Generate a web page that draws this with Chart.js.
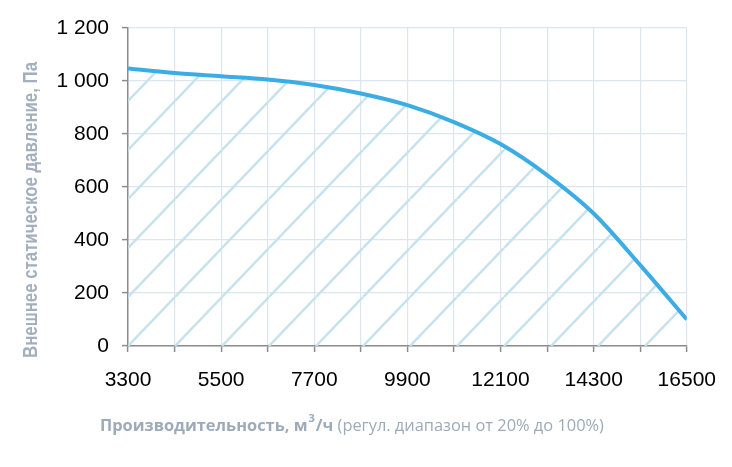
<!DOCTYPE html>
<html>
<head>
<meta charset="utf-8">
<script src="https://cdn.jsdelivr.net/npm/chart.js@4.4.1/dist/chart.umd.min.js"></script>
<style>
  html, body { margin: 0; padding: 0; background: #fff; }
  #wrap { width: 732px; height: 467px; position: relative; }
</style>
</head>
<body>
<div id="wrap"><canvas id="c"></canvas></div>
<script>
// ---- data ----
const airflow = [3300, 4400, 5500, 6600, 7700, 8800, 9900, 11000, 12100, 13200, 14300, 15400, 16500];
const pressure = [1047, 1030, 1018, 1006, 985, 953, 909, 845, 762, 645, 500, 305, 100];
const xTickLabels = ['3300', '5500', '7700', '9900', '12100', '14300', '16500'];
const yTickLabels = ['0', '200', '400', '600', '800', '1 000', '1 200'];
const yTitle = 'Внешнее статическое давление, Па';
const xTitleBold = 'Производительность, м';
const xTitleSup = '3';
const xTitleBold2 = '/ч';
const xTitleNormal = ' (регул. диапазон от 20% до 100%)';

const ctx = document.getElementById('c').getContext('2d');

function makeHatch() {
  const w = 47, h = 49;
  const c = document.createElement('canvas');
  c.width = w; c.height = h;
  const g = c.getContext('2d');
  g.strokeStyle = '#c6e2ed';
  g.lineWidth = 2.5;
  for (const k of [-1, 0, 1]) {
    g.beginPath();
    g.moveTo(k * w, h);
    g.lineTo(k * w + w, 0);
    g.stroke();
  }
  return ctx.createPattern(c, 'repeat');
}
const hatch = makeHatch();

const hatchAlign = {
  id: 'hatchAlign',
  beforeDatasetsDraw(chart) {
    const a = chart.chartArea;
    if (hatch.setTransform) hatch.setTransform(new DOMMatrix([1, 0, 0, 1, a.left, a.bottom]));
  }
};

const titlesPlugin = {
  id: 'titlesPlugin',
  afterDraw(chart) {
    const c = chart.ctx;
    // y axis title (rotated)
    c.save();
    c.fillStyle = '#a3afbc';
    c.font = 'bold 20px "Liberation Sans", Arial';
    c.textAlign = 'center';
    c.textBaseline = 'alphabetic';
    const w = c.measureText(yTitle).width;
    c.translate(36.5, 210);
    c.rotate(-Math.PI / 2);
    c.scale(296 / w, 1);
    c.fillText(yTitle, 0, 0);
    c.restore();

    // x axis title (mixed bold / normal with superscript)
    c.save();
    c.fillStyle = '#9dabb9';
    c.textBaseline = 'alphabetic';
    c.textAlign = 'left';
    let x = 100;
    const y = 431;
    c.font = 'bold 16.4px "Open Sans"';
    c.fillText(xTitleBold, x, y); x += c.measureText(xTitleBold).width;
    c.font = 'bold 11px "Open Sans"';
    c.fillText(xTitleSup, x + 1, y - 9); x += c.measureText(xTitleSup).width + 2;
    c.font = 'bold 16.4px "Open Sans"';
    c.fillText(xTitleBold2, x, y); x += c.measureText(xTitleBold2).width;
    c.font = '16.4px "Open Sans"';
    c.fillText(xTitleNormal, x, y);
    c.restore();
  }
};

new Chart(ctx, {
  type: 'line',
  data: {
    datasets: [{
      data: airflow.map((x, i) => ({ x: x, y: pressure[i] })),
      borderColor: '#3badE4',
      borderWidth: 4,
      pointRadius: 0,
      cubicInterpolationMode: 'monotone',
      fill: 'origin',
      backgroundColor: hatch
    }]
  },
  options: {
    responsive: true,
    maintainAspectRatio: false,
    animation: false,
    layout: { padding: { left: 0, right: 45, top: 28, bottom: 0 } },
    plugins: { legend: { display: false }, tooltip: { enabled: false } },
    scales: {
      x: {
        type: 'linear',
        min: 3300, max: 16500,
        afterFit(s) { s.height = 467 - 346; },
        ticks: {
          stepSize: 1100,
          autoSkip: false,
          maxRotation: 0,
          padding: 16,
          color: '#000',
          font: { family: '"Liberation Sans", Arial', size: 21 },
          callback: (v, i) => (i % 2 === 0 ? xTickLabels[i / 2] : '')
        },
        grid: { color: '#dbe6f1', lineWidth: 1.2, tickLength: 6, tickColor: '#8c8c8c', tickWidth: 1.5 },
        border: { color: '#8c8c8c', width: 1.5 }
      },
      y: {
        min: 0, max: 1200,
        afterFit(s) { s.width = 128; },
        ticks: {
          stepSize: 200,
          padding: 13,
          color: '#000',
          font: { family: '"Liberation Sans", Arial', size: 21 },
          callback: (v, i) => yTickLabels[i]
        },
        grid: { color: '#dbe6f1', lineWidth: 1.2, tickLength: 6, tickColor: '#8c8c8c', tickWidth: 1.5 },
        border: { color: '#8c8c8c', width: 1.5 }
      }
    }
  },
  plugins: [hatchAlign, titlesPlugin]
});
</script>
</body>
</html>
